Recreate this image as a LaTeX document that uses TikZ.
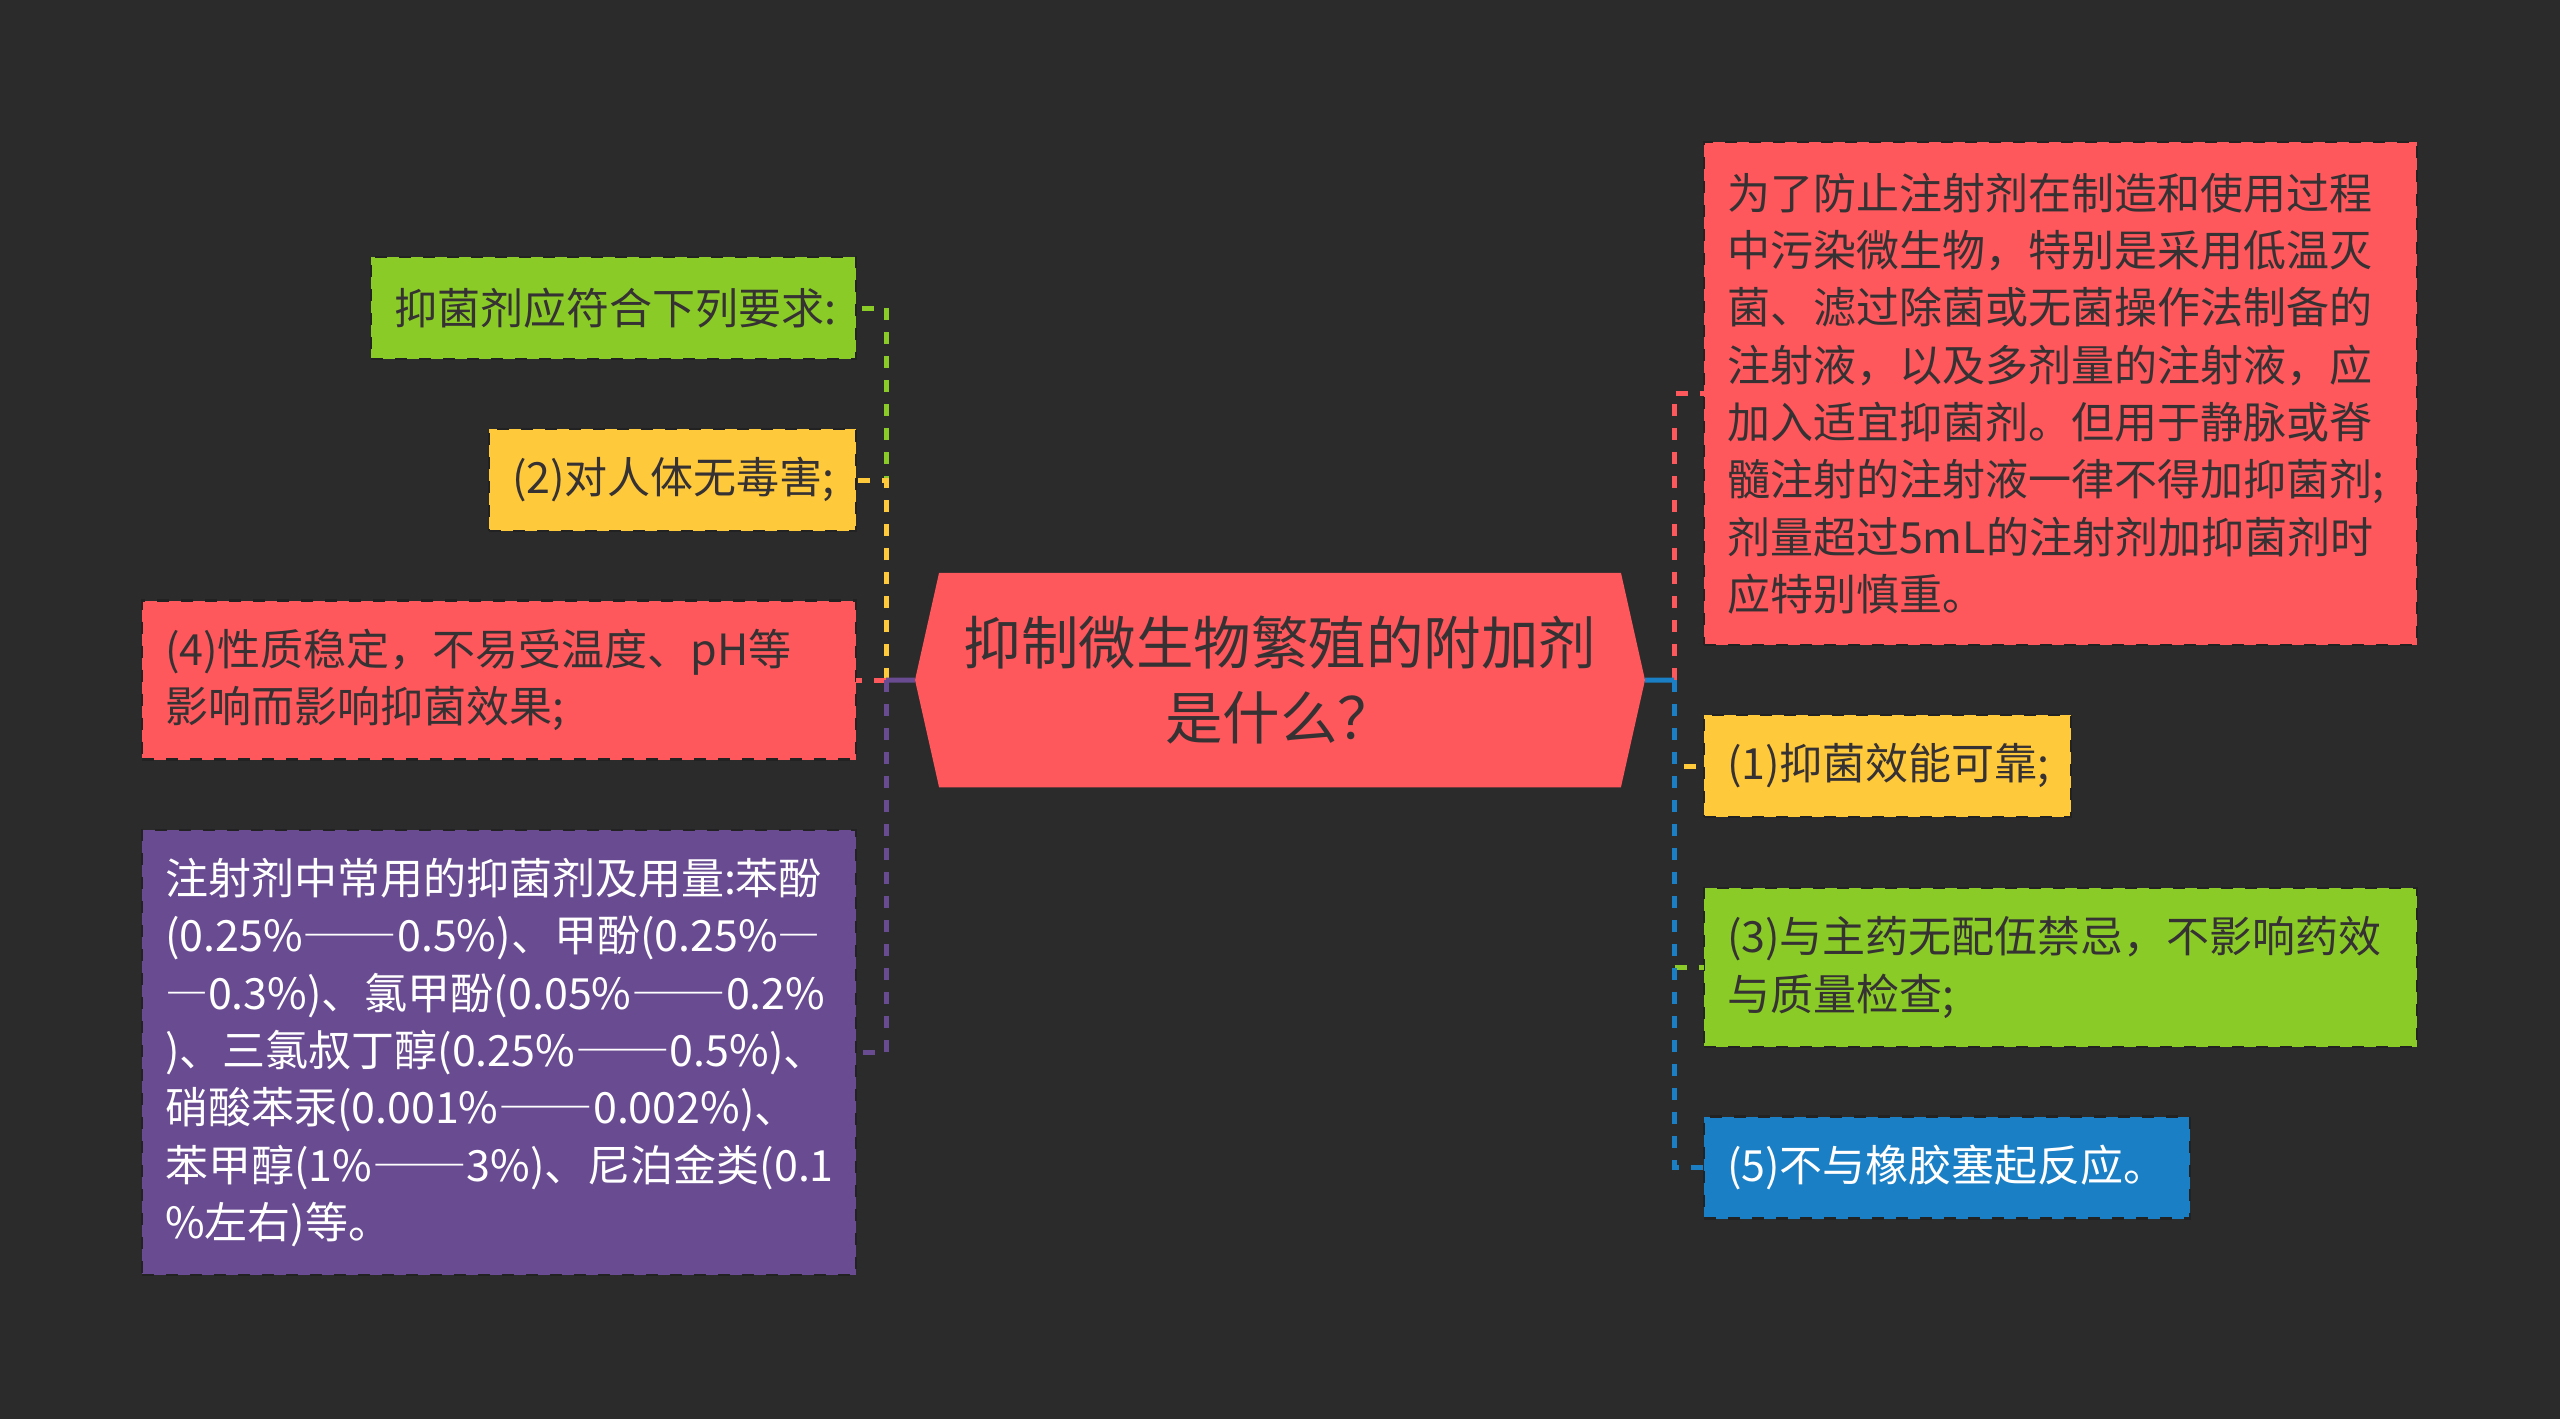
\documentclass[tikz,border=0pt]{standalone}
\usepackage{fontspec}
\setmainfont{Noto Sans CJK SC}
\usetikzlibrary{shapes.symbols}
\definecolor{bgdark}{HTML}{2B2B2B}
\definecolor{inkdark}{HTML}{363234}
\definecolor{mapred}{HTML}{FE575C}
\definecolor{mapgreen}{HTML}{8ACB27}
\definecolor{mapyellow}{HTML}{FFC93C}
\definecolor{mappurple}{HTML}{694B91}
\definecolor{mapblue}{HTML}{1A7FC4}
\newcommand{\widedash}{{\addfontfeatures{RawFeature=+fwid}—}}
\newcommand{\longdash}{\scalebox{1.1}[1]{\widedash\widedash}}
\tikzset{
  leaf/.style={rectangle, outer sep=0pt, inner xsep=23pt, inner ysep=0pt, align=left,
    line width=2.5pt, draw=bgdark!80!black, dash pattern=on 12pt off 12pt,
    text=inkdark, font=\fontsize{43}{57.3}\selectfont,
    execute at end node={\par\vskip-7pt\relax}},
  rootbox/.style={signal, signal to=west and east, signal pointer angle=154.7,
    fill=mapred, outer sep=0pt, inner sep=0pt, minimum width=730pt, minimum height=214.5pt,
    align=center, text=inkdark, font=\fontsize{57.5}{75}\selectfont},
  link/.style={line width=5pt, dash pattern=on 12pt off 12pt},
  stub/.style={line width=5pt}
}
\begin{document}
\begin{tikzpicture}[x=1pt,y=-1pt]
      \useasboundingbox (0,0) rectangle (2560,1419);
      \fill[bgdark] (0,0) rectangle (2560,1419);
      \node[rootbox] (root) at (1280,680) {抑制微生物繁殖的附加剂\\是什么？};
      \coordinate (trunkl) at (886,680);
      \coordinate (trunkr) at (1674,680);
      % left side
      \node[leaf, anchor=east, fill=mapgreen, text width=439pt, minimum height=102pt] (need) at (856,308)
        {抑菌剂应符合下列要求:};
      \node[leaf, anchor=east, fill=mapyellow, text width=321pt, minimum height=102pt] (two) at (856,480)
        {(2)对人体无毒害;};
      \node[leaf, anchor=east, fill=mapred, text width=668pt, minimum height=159pt] (four) at (856,680)
        {(4)性质稳定，不易受温度、pH等\\影响而影响抑菌效果;};
      \node[leaf, anchor=east, fill=mappurple, text=white, text width=668pt, minimum height=445pt] (dose) at (856,1052.5)
        {注射剂中常用的抑菌剂及用量:苯酚\\(0.25\%\longdash 0.5\%)、甲酚(0.25\%\widedash\\\widedash 0.3\%)、氯甲酚(0.05\%\longdash 0.2\%\\)、三氯叔丁醇(0.25\%\longdash 0.5\%)、\\硝酸苯汞(0.001\%\longdash 0.002\%)、\\苯甲醇(1\%\longdash 3\%)、尼泊金类(0.1\\\%左右)等。};
      % right side
      \node[leaf, anchor=west, fill=mapred, text width=667pt, minimum height=503pt] (why) at (1704,393.5)
        {为了防止注射剂在制造和使用过程\\中污染微生物，特别是采用低温灭\\菌、滤过除菌或无菌操作法制备的\\注射液，以及多剂量的注射液，应\\加入适宜抑菌剂。但用于静脉或脊\\髓注射的注射液一律不得加抑菌剂;\\剂量超过5mL的注射剂加抑菌剂时\\应特别慎重。};
      \node[leaf, anchor=west, fill=mapyellow, text width=321pt, minimum height=102pt] (one) at (1704,766)
        {(1)抑菌效能可靠;};
      \node[leaf, anchor=west, fill=mapgreen, text width=667pt, minimum height=159pt] (three) at (1704,967.5)
        {(3)与主药无配伍禁忌，不影响药效\\与质量检查;};
      \node[leaf, anchor=west, fill=mapblue, text=white, text width=440pt, minimum height=102pt] (five) at (1704,1167.5)
        {(5)不与橡胶塞起反应。};
      \begin{scope}[link]
        \draw[mapgreen] (trunkl) |- (need);
        \draw[mapyellow] (trunkl) |- (two);
        \draw[mapred] (trunkl) -- (four);
        \draw[mappurple] (trunkl) |- (dose);
        \draw[mapred] (trunkr) |- (why);
        \draw[mapyellow] (trunkr) |- (one);
        \draw[mapgreen] (trunkr) |- (three);
        \draw[mapblue] (trunkr) |- (five);
      \end{scope}
      \draw[stub, mappurple] (root) -- (trunkl);
      \draw[stub, mapblue] (root) -- (trunkr);
    \end{tikzpicture}
\end{document}
